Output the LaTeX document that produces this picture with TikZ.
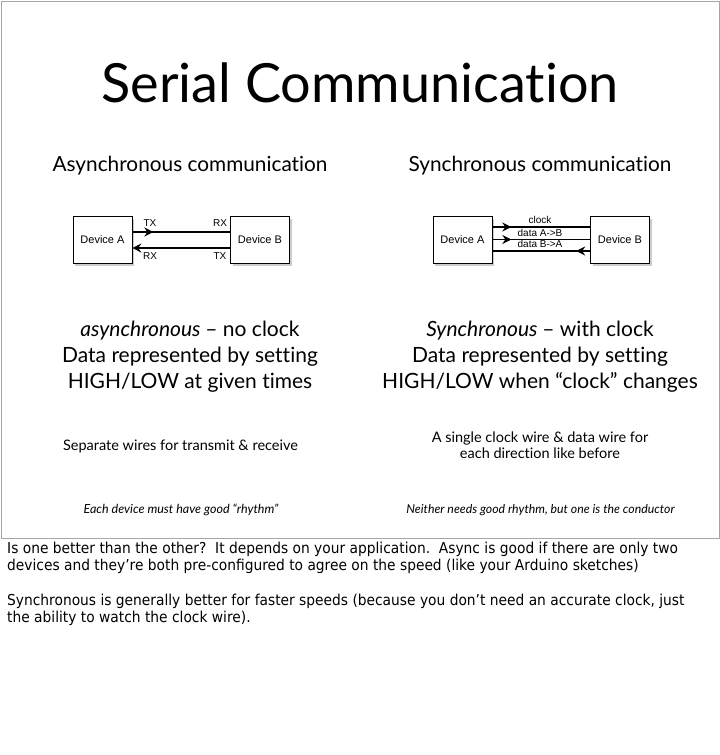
\documentclass[tikz,border=0pt]{standalone}
\usepackage{fontspec}
\setmainfont{Lato}[Ligatures=NoCommon]
\newfontfamily\devfont{Liberation Sans}
\newfontfamily\notefont[FakeStretch=0.92]{DejaVu Sans}
\usetikzlibrary{positioning}
\usetikzlibrary{arrows.meta}
\usetikzlibrary{shadows}
\usetikzlibrary{decorations.markings}

\tikzset{
  device/.style={draw=black, line width=0.6pt, fill=white, minimum width=59pt, minimum height=47pt, inner sep=0pt,
    font=\devfont\fontsize{11}{13}\selectfont, drop shadow={shadow xshift=2pt, shadow yshift=-3pt, opacity=0.4}},
  wire/.style={line width=1.4pt},
  midarrow/.style={postaction={decorate}, decoration={markings, mark=at position #1 with {\arrow{Stealth[length=9pt, width=9pt, inset=3pt]}}}},
  pinlabel/.style={font=\devfont\fontsize{10}{12}\selectfont, inner sep=0pt},
  slidetext/.style={anchor=base, inner sep=0pt, align=center},
}

\begin{document}
\begin{tikzpicture}[x=1pt, y=-1pt]
\useasboundingbox (0,0) rectangle (720,755);

% slide frame
\draw[gray!70, line width=1pt] (1,1) rectangle (719,538);

\node[slidetext, font=\fontsize{54}{60}\selectfont] (title) at (360,102) {Serial Communication};

\node[slidetext, font=\fontsize{20.8}{24}\selectfont] (asynchead) at (190,171) {Asynchronous communication};
\node[slidetext, font=\fontsize{20.8}{24}\selectfont] (synchead) at (540,171) {Synchronous communication};


\begin{scope}
{
\node[device] (asA) at (102.5,239.5) {Device A};
\node[device] (asB) at (260,239.5) {Device B};

\draw[wire, midarrow=21pt] ([yshift=7.5pt]asA.east) -- ([yshift=7.5pt]asB.west);
\draw[wire, -{Stealth[length=9pt, width=9pt, inset=3pt]}] ([yshift=-8.5pt]asB.west) -- ([yshift=-8.5pt]asA.east);

\node[pinlabel] (txA) at (150,223) {TX};
\node[pinlabel] (rxB) at (220,223) {RX};
\node[pinlabel] (rxA) at (150,256) {RX};
\node[pinlabel] (txB) at (220,256) {TX};
}
\end{scope}

\begin{scope}
{
\node[device] (syA) at (462.5,239.5) {Device A};
\node[device] (syB) at (620,239.5) {Device B};

\draw[wire, midarrow=19pt] ([yshift=12.5pt]syA.east) -- ([yshift=12.5pt]syB.west);
\draw[wire, midarrow=19pt] (syA.east) -- (syB.west);
\draw[wire, midarrow=14pt] ([yshift=-11.5pt]syB.west) -- ([yshift=-11.5pt]syA.east);

\node[pinlabel] (clk) at (540,219.5) {clock};
\node[pinlabel] (dab) at (540,232.5) {data A->B};
\node[pinlabel] (dba) at (540,244) {data B->A};
}
\end{scope}


% text under the diagrams (base = last line)
\node[slidetext, font=\fontsize{21}{26}\selectfont] (asyncnote) at (190,388)
  {\itshape asynchronous\/ \upshape -- no clock\\Data represented by setting\\HIGH/LOW at given times};
\node[slidetext, font=\fontsize{21}{26}\selectfont] (syncnote) at (540,388)
  {\itshape Synchronous\/ \upshape -- with clock\\Data represented by setting\\HIGH/LOW when ``clock'' changes};

\node[slidetext, font=\fontsize{14.5}{16}\selectfont] (asyncwires) at (180.5,450) {Separate wires for transmit \& receive};
\node[slidetext, font=\fontsize{14.5}{16}\selectfont] (syncwires) at (540,458) {A single clock wire \& data wire for\\each direction like before};

\node[slidetext, font=\itshape\fontsize{12.5}{15}\selectfont] (asyncrhythm) at (181,513) {Each device must have good ``rhythm''};
\node[slidetext, font=\itshape\fontsize{12.3}{15}\selectfont] (syncrhythm) at (540.5,513) {Neither needs good rhythm, but one is the conductor};

% speaker notes
\node[anchor=base west, inner sep=0pt, align=left, font=\notefont\fontsize{15}{17}\selectfont] (note1) at (7,570)
  {Is one better than the other?\ \ It depends on your application.\ \ Async is good if there are only two\\devices and they’re both pre-configured to agree on the speed (like your Arduino sketches)};
\node[anchor=base west, inner sep=0pt, align=left, font=\notefont\fontsize{15}{17}\selectfont] (note2) at (7,622)
  {Synchronous is generally better for faster speeds (because you don’t need an accurate clock, just\\the ability to watch the clock wire).};

\end{tikzpicture}
\end{document}
